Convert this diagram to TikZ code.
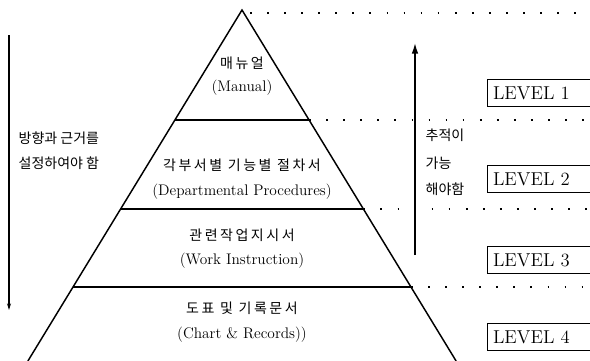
\documentclass[tikz,border=0pt]{standalone}
\usepackage{fontspec}
\newfontfamily\kor{Noto Sans CJK KR}
\newfontfamily\korwide{Noto Sans CJK KR}[LetterSpace=18]
\usetikzlibrary{arrows.meta,positioning}

\begin{document}
\begin{tikzpicture}[
    x=0.75pt, y=-0.75pt,
    edge/.style={line width=1.1pt},
    guide/.style={line width=1.3pt, dash pattern=on 1.3pt off 11.5pt},
    kolab/.style={font=\kor\fontsize{10.5}{12}\selectfont},
    kowide/.style={font=\korwide\fontsize{10.5}{12}\selectfont},
    enlab/.style={font=\fontsize{11.5}{13}\selectfont},
    lvbox/.style={draw, line width=1.1pt, anchor=west, text width=100pt,
      minimum height=20pt, inner xsep=4pt, font=\fontsize{14}{16}\selectfont},
  ]
  \clip (0,0) rectangle (590,361);
  \def\ax{242}     % apex x
  \def\ay{10}      % apex y
  \def\slope{0.61} % half width per unit of height

  % --- Pyramid ---
  \coordinate (apex) at (\ax,\ay);
  \coordinate (bl) at (\ax-\slope*351,361);
  \coordinate (br) at (\ax+\slope*351,361);
  \draw[edge] (bl) -- (apex) -- (br);
  \foreach \y [count=\i] in {120, 209, 287} {
    \coordinate (l\i) at (\ax-\slope*\y+\slope*\ay,\y);
    \coordinate (r\i) at (\ax+\slope*\y-\slope*\ay,\y);
    \coordinate (e\i) at (600,\y);
    \draw[edge] (l\i) -- (r\i);
    \draw[guide] (r\i) -- (e\i);
  }
  % top guide from the apex
  \coordinate (t0) at (\ax+8,13);
  \coordinate (e0) at (600,13);
  \draw[guide] (t0) -- (e0);

  % Layer texts
  \foreach \ko/\en/\yk/\ye [count=\i] in {
      매뉴얼/(Manual)/63/88,
      각부서별 기능별 절차서/(Departmental Procedures)/165/192,
      관련작업지시서/(Work Instruction)/235/261,
      도표 및 기록문서/(Chart \& Records))/308/335} {
    \node[kowide] (ko\i) at (\ax,\yk) {\ko};
    \node[enlab] (en\i) at (\ax,\ye) {\en};
  }

  % --- Level boxes ---
  \foreach \y [count=\i] in {93, 179, 260, 337} {
    \node[lvbox] (lv\i) at (487,\y) {LEVEL \i};
  }

  % --- Left arrow and note ---
  \coordinate (la) at (9,35);
  \coordinate (lb) at (9,310);
  \draw[line width=0.9pt, -{Stealth[length=5pt,width=3pt]}] (la) -- (lb);
  \node[kolab, anchor=west] (dir1) at (14,138) {방향과 근거를};
  \node[kolab, anchor=west] (dir2) at (14,163) {설정하여야 함};

  % --- Right arrow and note ---
  \coordinate (ra) at (415,255);
  \coordinate (rb) at (415,43);
  \draw[line width=1.1pt, -{Latex[length=8pt,width=5pt]}] (ra) -- (rb);
  \foreach \t/\y [count=\i] in {추적이/135, 가능/163, 해야함/189} {
    \node[kolab, anchor=west] (tr\i) at (421,\y) {\t};
  }
\end{tikzpicture}
\end{document}
